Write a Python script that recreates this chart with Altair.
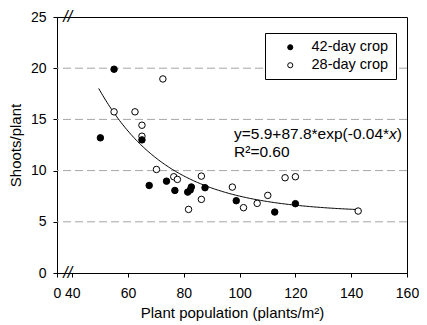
import altair as alt
import pandas as pd

# 42-day crop (filled)
x42 = [50.1, 55.0, 65.0, 67.6, 73.8, 76.8, 81.4, 82.3, 82.7, 87.6, 98.8, 112.6, 120.0]
y42 = [13.2, 19.9, 13.0, 8.55, 8.97, 8.06, 7.9, 8.1, 8.4, 8.33, 7.06, 5.95, 6.77]
# 28-day crop (open)
x28 = [72.5, 55.0, 62.5, 65.0, 65.0, 70.2, 76.4, 77.7, 86.3, 86.3, 81.7, 97.4, 101.4, 106.3, 110.1, 116.3, 120.0, 142.5]
y28 = [18.95, 15.74, 15.74, 14.43, 13.36, 10.11, 9.40, 9.14, 9.46, 7.19, 6.21, 8.39, 6.38, 6.80, 7.58, 9.30, 9.40, 6.05]

series = ["42-day crop", "28-day crop"]
x_ticks = [34.55, 40, 60, 80, 100, 120, 140, 160]
y_ticks = [0, 5, 10, 15, 20, 25]
grid_vals = [5, 10, 15, 20]

# fit: y = a + b*exp(c*x)
fit_a, fit_b, fit_c = 5.9, 87.8, -0.04
fit_start, fit_stop = 49.5, 142.5

FONT = "Liberation Sans"

df = pd.DataFrame(
    {"x": x42 + x28, "y": y42 + y28,
     "crop": [series[0]] * len(x42) + [series[1]] * len(x28)}
)

xscale = alt.Scale(domain=[34.55, 160], nice=False, zero=False)
yscale = alt.Scale(domain=[0, 25], nice=False)

X = alt.X("x:Q", scale=xscale,
          axis=alt.Axis(values=x_ticks, title="Plant population (plants/m²)",
                        labelExpr="datum.value < 35 ? '0' : datum.label",
                        labelFlush=False, labelOverlap=False, grid=False))
Y = alt.Y("y:Q", scale=yscale,
          axis=alt.Axis(values=y_ticks, title="Shoots/plant", grid=False))

grid = alt.Chart(pd.DataFrame({"g": grid_vals})).mark_rule(
    color="#a6a6a6", strokeDash=[8, 4], strokeWidth=1
).encode(y=alt.Y("g:Q", scale=yscale))

curve = alt.Chart(alt.sequence(fit_start, fit_stop + 0.5, 0.5, as_="x")).transform_calculate(
    y=f"{fit_a} + {fit_b} * exp({fit_c} * datum.x)"
).mark_line(color="black", strokeWidth=1).encode(x=X, y=Y)

points = alt.Chart(df).mark_point(
    shape="circle", size=42, stroke="black", strokeWidth=1, opacity=1, filled=True
).encode(
    x=X, y=Y,
    fill=alt.Fill("crop:N", scale=alt.Scale(domain=series, range=["black", "white"]),
                  sort=series,
                  legend=alt.Legend(title=None, orient="none", legendX=208, legendY=16,
                                    fillColor="white", strokeColor="black", padding=7,
                                    symbolType="circle", symbolSize=26,
                                    symbolStrokeColor="black", symbolStrokeWidth=1,
                                    symbolOffset=11, labelOffset=14,
                                    labelFontSize=14.5, labelFont=FONT, labelColor="black",
                                    rowPadding=3)),
    order=alt.Order("crop:N", sort="ascending"),
)

one = alt.Data(values=[{}])
EQX, EQY = 98.0, 13.6
eq1 = alt.Chart(one).mark_text(align="left", baseline="middle", fontSize=15.5, font=FONT,
                               color="black", text="y=5.9+87.8*exp(-0.04*").encode(
    x=alt.datum(EQX), y=alt.datum(EQY))
eq2 = alt.Chart(one).mark_text(align="left", baseline="middle", fontSize=15.5, font=FONT,
                               color="black", fontStyle="italic", text="x", dx=155).encode(
    x=alt.datum(EQX), y=alt.datum(EQY))
eq3 = alt.Chart(one).mark_text(align="left", baseline="middle", fontSize=15.5, font=FONT,
                               color="black", text=")", dx=162.8).encode(
    x=alt.datum(EQX), y=alt.datum(EQY))
r2 = alt.Chart(one).mark_text(align="left", baseline="middle", fontSize=15.5, font=FONT,
                              color="black", text="R²=0.60").encode(
    x=alt.datum(EQX), y=alt.datum(11.8))

brk = alt.Chart(alt.Data(values=[{"b": 0}, {"b": 25}])).mark_text(
    text="//", fontSize=16, font=FONT, fontStyle="italic", color="black",
    baseline="middle", align="center"
).encode(x=alt.datum(38.4), y=alt.Y("b:Q", scale=yscale))

chart = alt.layer(grid, curve, points, eq1, eq2, eq3, r2, brk).properties(
    width=350, height=256,
    autosize=alt.AutoSizeParams(type="none"),
    padding={"left": 49, "top": 9, "right": 12, "bottom": 52},
).configure_view(stroke="black", strokeWidth=1).configure_axis(
    domainColor="black", tickColor="black", tickSize=4, labelColor="black",
    titleColor="black", labelFont=FONT, titleFont=FONT, labelFontSize=14,
    titleFontSize=15, titleFontWeight="normal",
).configure_axisY(titlePadding=7, labelPadding=7).configure_axisX(titlePadding=5, labelPadding=9)

chart.save("out.html", embed_options={"renderer": "svg", "actions": False})
